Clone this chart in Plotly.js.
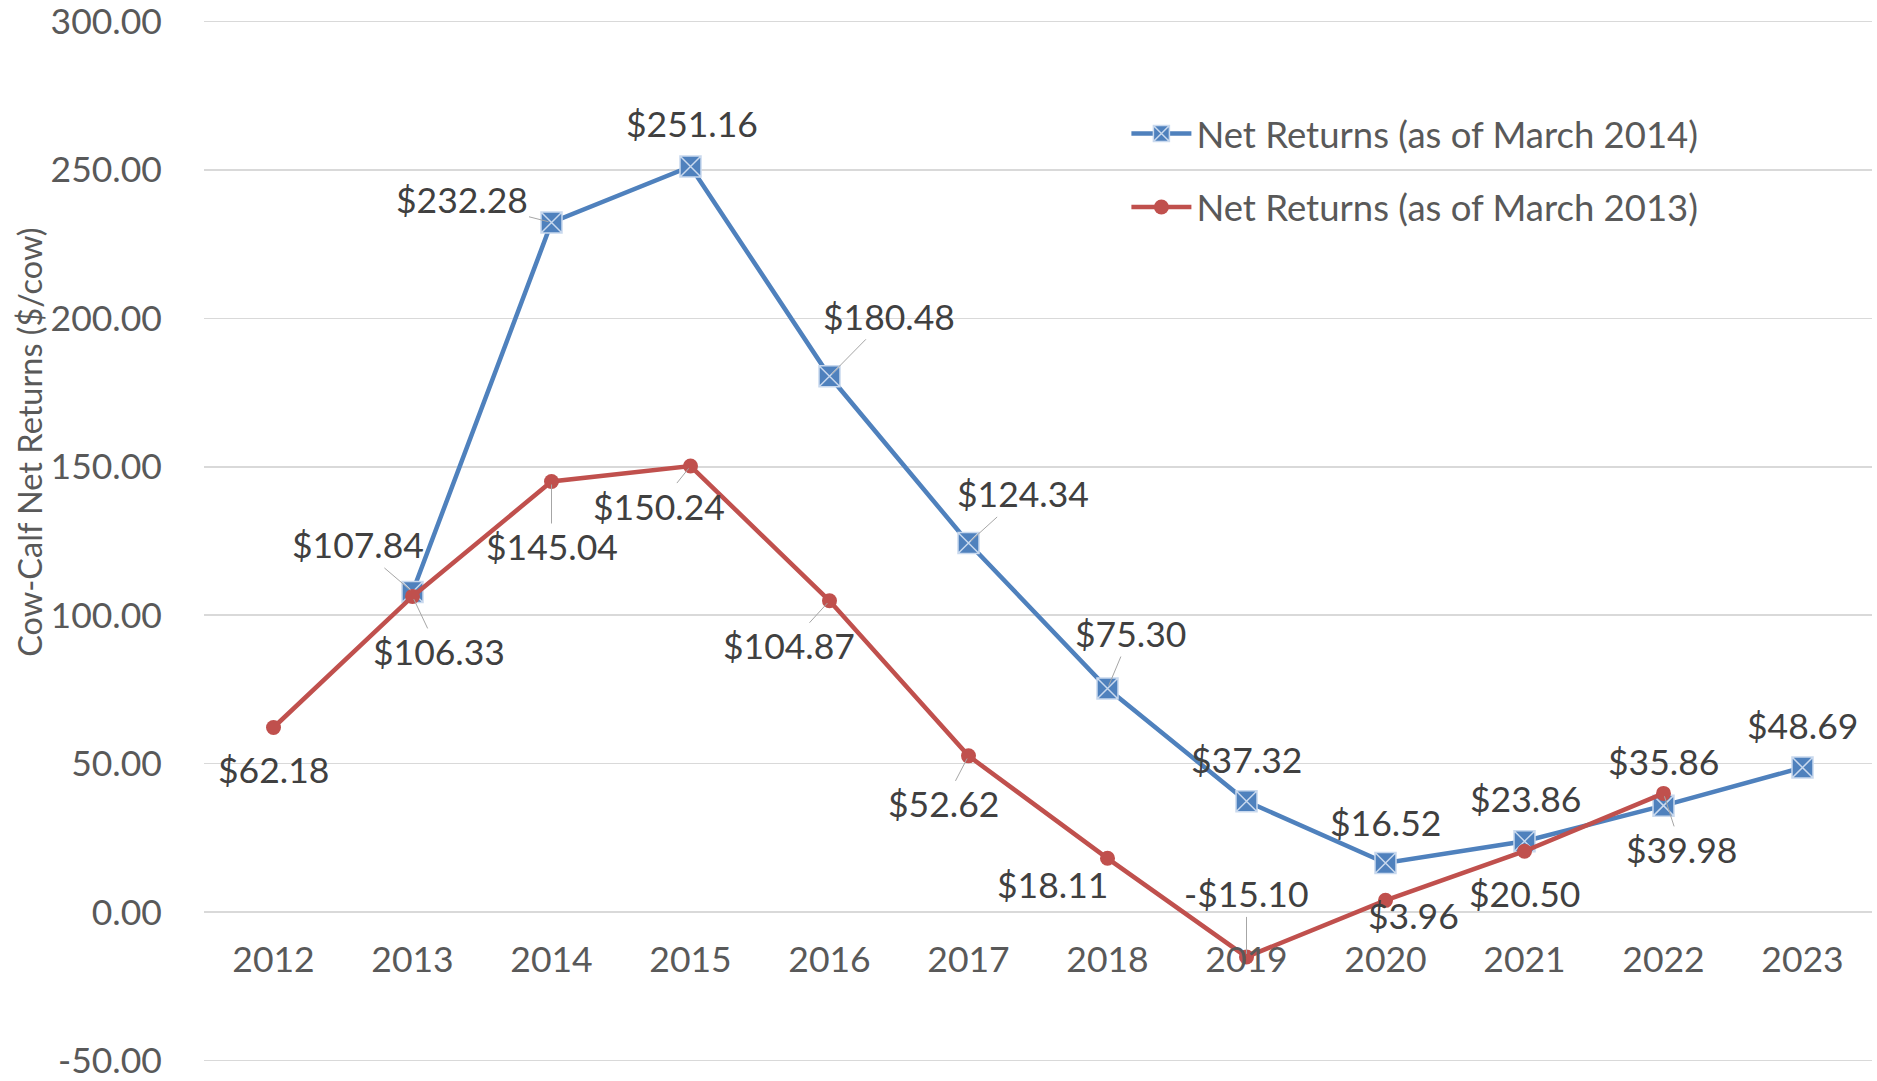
<!DOCTYPE html>
<html>
<head>
<meta charset="utf-8">
<script src="https://cdn.plot.ly/plotly-3.0.1.min.js"></script>
<style>html,body{margin:0;padding:0;background:#fff;}#chart{width:1877px;height:1081px;}</style>
</head>
<body>
<div id="chart"></div>
<script>
// ---- data ----
const years = ['2012','2013','2014','2015','2016','2017','2018','2019','2020','2021','2022','2023'];
const seriesNames = ['Net Returns (as of March 2014)', 'Net Returns (as of March 2013)'];
const returns2014 = [null, 107.84, 232.28, 251.16, 180.48, 124.34, 75.30, 37.32, 16.52, 23.86, 35.86, 48.69];
const returns2013 = [62.18, 106.33, 145.04, 150.24, 104.87, 52.62, 18.11, -15.10, 3.96, 20.50, 39.98, null];
const yTickVals = [-50, 0, 50, 100, 150, 200, 250, 300];
const yTickText = ['-50.00', '0.00', '50.00', '100.00', '150.00', '200.00', '250.00', '300.00'];
const yTitle = 'Cow-Calf Net Returns ($/cow)';

// ---- label placement (pixel offsets of label centre from the point) ----
const off2014 = [null, [-55,-47], [-90,-23], [1,-43], [59,-60], [54,-49], [23,-55], [0,-42], [0,-41], [1,-43], [0,-44], [0,-42]];
const lead2014 = [false, true, true, false, true, true, true, false, false, false, false, false];
const off2013 = [[0,42], [26,55], [0,65], [-32,40], [-41,45], [-25,48], [-55,26], [0,-63], [28,15], [0,42], [18,56], null];
const lead2013 = [false, true, true, true, true, true, false, true, false, false, true, false];

const blue = '#4F81BD', red = '#C0504D';
const FONT = 'Lato, "Open Sans", sans-serif';
const yMin = -50, yMax = 300;
const yLo = yMin - 0.5, yHi = yMax + 0.5;

function fmt(v) { return (v < 0 ? '-$' : '$') + Math.abs(v).toFixed(2); }

const annotations = [];
function addLabels(vals, offs, leads) {
  vals.forEach((v, i) => {
    if (v === null) return;
    annotations.push({
      x: i, y: v, xref: 'x', yref: 'y',
      text: fmt(v), showarrow: true, arrowhead: 0, arrowwidth: 1,
      arrowcolor: leads[i] ? '#A6A6A6' : 'rgba(0,0,0,0)', standoff: 3,
      ax: offs[i][0], ay: offs[i][1],
      font: {family: FONT, size: 35.5, color: '#404040'}
    });
  });
}
addLabels(returns2014, off2014, lead2014);
addLabels(returns2013, off2013, lead2013);

const m = {l: 204, r: 5, t: 20, b: 18.5};
const H = 1081;
annotations.push({
  xref: 'paper', yref: 'paper', x: 0, xshift: 30 - m.l, xanchor: 'center', yanchor: 'middle',
  y: ((H - m.b) - 443) / (H - m.t - m.b),
  text: yTitle, textangle: -90, showarrow: false,
  font: {family: FONT, size: 32.5, color: '#595959'}
});

const traces = [
  {x: years, y: returns2014, name: seriesNames[0], type: 'scatter', mode: 'lines+markers',
   legendgroup: 'a', connectgaps: false,
   line: {color: blue, width: 4.5},
   marker: {symbol: 'square-x', size: 21, color: blue, line: {color: '#C9D9EE', width: 1.5}}},
  {x: years, y: returns2013, name: seriesNames[1], type: 'scatter', mode: 'lines+markers',
   legendgroup: 'b', connectgaps: false,
   line: {color: red, width: 4.5},
   marker: {symbol: 'circle', size: 15, color: red}}
];

const layout = {
  width: 1877, height: H,
  margin: m,
  paper_bgcolor: '#ffffff', plot_bgcolor: '#ffffff',
  showlegend: true,
  legend: {x: 0.553, y: 0.92, xanchor: 'left', yanchor: 'top', traceorder: 'grouped',
           tracegroupgap: 23, itemwidth: 60, bgcolor: 'rgba(0,0,0,0)',
           font: {family: FONT, size: 36.5, color: '#595959'}},
  xaxis: {type: 'category', range: [-0.5, 11.5], anchor: 'free',
          position: (0 - yLo) / (yHi - yLo),
          showgrid: false, zeroline: false, showline: false,
          ticks: 'outside', ticklen: 16, tickcolor: 'rgba(0,0,0,0)',
          tickfont: {family: FONT, size: 35.5, color: '#595959'}},
  yaxis: {range: [yLo, yHi], tickvals: yTickVals, ticktext: yTickText,
          ticklabeloverflow: 'allow',
          showgrid: true, gridcolor: '#D9D9D9', gridwidth: 1.5, zeroline: false, showline: false,
          ticks: 'outside', ticklen: 34, tickcolor: 'rgba(0,0,0,0)',
          tickfont: {family: FONT, size: 35.5, color: '#595959'}},
  annotations: annotations
};

Plotly.newPlot('chart', traces, layout, {displayModeBar: false, staticPlot: true});
</script>
</body>
</html>
